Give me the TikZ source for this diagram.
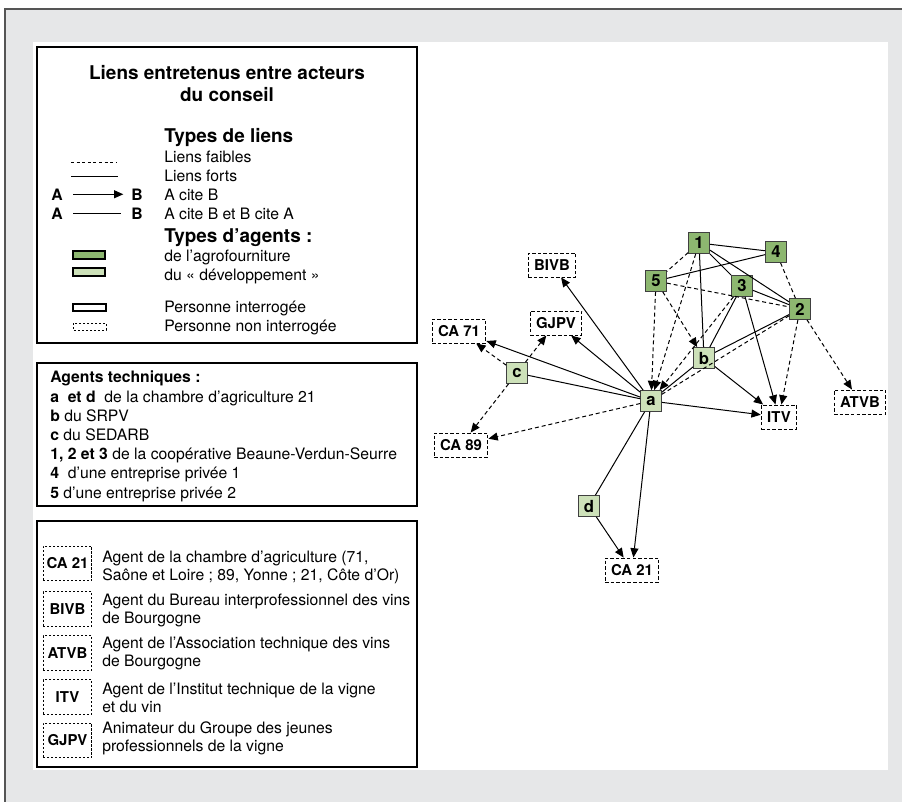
\documentclass[tikz,border=0pt]{standalone}
\usepackage{fontspec}
\setmainfont{TeX Gyre Heros}
\usetikzlibrary{arrows.meta}

\definecolor{agrogreen}{RGB}{141,183,112}
\definecolor{devgreen}{RGB}{205,225,185}
\definecolor{panelgray}{RGB}{230,231,232}
\definecolor{framegray}{RGB}{85,85,85}

\newcommand\legendhead{\fontsize{14.2}{16}\selectfont\bfseries}
\newcommand\legendtext{\fontsize{11.8}{14}\selectfont}
\newcommand\boxlabel{\fontsize{11.2}{12}\selectfont\bfseries}

\begin{document}
\begin{tikzpicture}[x=0.75pt,y=0.75pt,yscale=-1,xscale=1,
  agent/.style={draw=black!75,line width=0.8pt,minimum size=15.5pt,inner sep=0pt,font=\fontsize{12.5}{12.5}\selectfont\bfseries},
  agro/.style={agent,fill=agrogreen},
  devt/.style={agent,fill=devgreen},
  other/.style={draw,fill=white,line width=0.7pt,dash pattern={on 2.6pt off 1.6pt},minimum height=18pt,inner xsep=4.5pt,font=\boxlabel},
  keybox/.style={draw,line width=0.6pt,dash pattern={on 1.6pt off 1.4pt},minimum width=36.5pt,minimum height=26pt,inner sep=0pt,font=\boxlabel},
  strong/.style={line width=0.75pt},
  weak/.style={line width=0.75pt,dash pattern={on 3pt off 2.2pt}},
  cite/.style={-{Triangle[length=7pt,width=6pt]}},
  legendbox/.style={draw,line width=1pt}]
\useasboundingbox (0,0) rectangle (902,801);

%Shape: Rectangle [frame]
\draw [draw=framegray,fill=panelgray,line width=1pt] (5,9) rectangle (912,812) ;
%Shape: Rectangle [white panel]
\fill [white] (33,42) rectangle (888,770) ;

%Shape: Rectangle [legend of links]
\draw [legendbox] (37,47) rectangle (417,343) ;
%Shape: Rectangle [agents]
\draw [legendbox] (37,363) rectangle (417,506) ;
%Shape: Rectangle [structures]
\draw [legendbox] (37,521) rectangle (417,767) ;

% Text Node
\draw (227,79) node (title1) [anchor=base][inner sep=0.75pt] {\legendhead Liens entretenus entre acteurs};
% Text Node
\draw (227,101) node (title2) [anchor=base][inner sep=0.75pt] {\legendhead du conseil};
% Text Node
\draw (163,142) node (tliens) [anchor=base west][inner sep=0.75pt] {\legendhead Types de liens};
% Text Node
\draw (163,162) node (tfaibles) [anchor=base west][inner sep=0.75pt] {\legendtext Liens faibles};
% Text Node
\draw (163,181) node (tforts) [anchor=base west][inner sep=0.75pt] {\legendtext Liens forts};
% Text Node
\draw (163,200) node (tcite) [anchor=base west][inner sep=0.75pt] {\legendtext A cite B};
% Text Node
\draw (163,219) node (tmutual) [anchor=base west][inner sep=0.75pt] {\legendtext A cite B et B cite A};
% Text Node
\draw (163,242) node (tagents) [anchor=base west][inner sep=0.75pt] {\legendhead Types d’agents :};
% Text Node
\draw (163,261) node (tagro) [anchor=base west][inner sep=0.75pt] {\legendtext de l’agrofourniture};
% Text Node
\draw (163,280) node (tdev) [anchor=base west][inner sep=0.75pt] {\legendtext du « développement »};
% Text Node
\draw (163,312) node (tinter) [anchor=base west][inner sep=0.75pt] {\legendtext Personne interrogée};
% Text Node
\draw (163,331) node (tnoninter) [anchor=base west][inner sep=0.75pt] {\legendtext Personne non interrogée};

%Straight Lines [weak link key]
\coordinate (weakL) at (71,162) ;
\coordinate (weakR) at (116,162) ;
\draw [line width=0.6pt,dash pattern={on 2.2pt off 2pt}] (weakL) -- (weakR) ;
%Straight Lines [strong link key]
\coordinate (strongL) at (71,176) ;
\coordinate (strongR) at (118,176) ;
\draw [line width=0.75pt] (strongL) -- (strongR) ;
% Text Node
\draw (50,200) node (keyA1) [anchor=base west][inner sep=0.75pt] {\legendtext\bfseries A};
% Text Node
\draw (130,200) node (keyB1) [anchor=base west][inner sep=0.75pt] {\legendtext\bfseries B};
\draw [strong,cite,shorten <=7pt,shorten >=5pt] (keyA1) -- (keyB1) ;
% Text Node
\draw (50,219) node (keyA2) [anchor=base west][inner sep=0.75pt] {\legendtext\bfseries A};
% Text Node
\draw (130,219) node (keyB2) [anchor=base west][inner sep=0.75pt] {\legendtext\bfseries B};
\draw [strong,shorten <=7pt,shorten >=7pt] (keyA2) -- (keyB2) ;

%Shape: Rectangle [agro key]
\draw [fill=agrogreen,line width=0.8pt] (73,251) rectangle (105,259) ;
%Shape: Rectangle [dev key]
\draw [fill=devgreen,line width=0.8pt] (73,268) rectangle (105,276) ;
%Shape: Rectangle [asked key]
\draw [line width=0.8pt] (73,304) rectangle (106,311) ;
%Shape: Rectangle [not asked key]
\draw [line width=0.6pt,dash pattern={on 1.6pt off 1.4pt}] (73,323) rectangle (106,330) ;

% Text Node
\draw (49,382) node (tech) [anchor=base west][inner sep=0.75pt] {\legendtext\bfseries Agents techniques :};
% Text Node
\draw (49,402) node (techad) [anchor=base west][inner sep=0.75pt] {\legendtext\textbf{a \ et d} \ de la chambre d’agriculture 21};
% Text Node
\draw (49,421) node (techb) [anchor=base west][inner sep=0.75pt] {\legendtext\textbf{b} du SRPV};
% Text Node
\draw (49,440) node (techc) [anchor=base west][inner sep=0.75pt] {\legendtext\textbf{c} du SEDARB};
% Text Node
\draw (49,459) node (tech123) [anchor=base west][inner sep=0.75pt] {\legendtext\textbf{1, 2 et 3} de la coopérative Beaune-Verdun-Seurre};
% Text Node
\draw (49,478) node (tech4) [anchor=base west][inner sep=0.75pt] {\legendtext\textbf{4} \ d’une entreprise privée 1};
% Text Node
\draw (49,498) node (tech5) [anchor=base west][inner sep=0.75pt] {\legendtext\textbf{5} d’une entreprise privée 2};

% Key boxes
\node [keybox] (keyca) at (67.5,563.5) {CA 21};
\node [keybox] (keybivb) at (67.5,609) {BIVB};
\node [keybox] (keyatvb) at (67.5,653) {ATVB};
\node [keybox] (keyitv) at (67.5,697) {ITV};
\node [keybox] (keygjpv) at (67.5,740.5) {GJPV};
% Text Node
\draw (101,562) node (dca1) [anchor=base west][inner sep=0.75pt] {\legendtext Agent de la chambre d’agriculture (71,};
\draw (101,580) node (dca2) [anchor=base west][inner sep=0.75pt] {\legendtext Saône et Loire ; 89, Yonne ; 21, Côte d’Or)};
% Text Node
\draw (101,605) node (dbivb1) [anchor=base west][inner sep=0.75pt] {\legendtext Agent du Bureau interprofessionnel des vins};
\draw (101,623) node (dbivb2) [anchor=base west][inner sep=0.75pt] {\legendtext de Bourgogne};
% Text Node
\draw (101,648) node (datvb1) [anchor=base west][inner sep=0.75pt] {\legendtext Agent de l’Association technique des vins};
\draw (101,666) node (datvb2) [anchor=base west][inner sep=0.75pt] {\legendtext de Bourgogne};
% Text Node
\draw (101,694) node (ditv1) [anchor=base west][inner sep=0.75pt] {\legendtext Agent de l’Institut technique de la vigne};
\draw (101,712) node (ditv2) [anchor=base west][inner sep=0.75pt] {\legendtext et du vin};
% Text Node
\draw (101,733) node (dgjpv1) [anchor=base west][inner sep=0.75pt] {\legendtext Animateur du Groupe des jeunes};
\draw (101,751) node (dgjpv2) [anchor=base west][inner sep=0.75pt] {\legendtext professionnels de la vigne};

% Network: agents
\node [agro] (n1) at (699,243) {1};
\node [agro] (n4) at (776,252) {4};
\node [agro] (n5) at (656,281) {5};
\node [agro] (n3) at (742,286) {3};
\node [agro] (n2) at (800,309) {2};
\node [devt] (nb) at (704,358) {b};
\node [devt] (na) at (651,401) {a};
\node [devt] (nc) at (517,373) {c};
\node [devt] (nd) at (589,506) {d};
% Network: other structures
\node [other] (bivb) at (552,265) {BIVB};
\node [other] (gjpv) at (556,323) {GJPV};
\node [other] (ca71) at (459,331) {CA 71};
\node [other] (ca89) at (461,445) {CA 89};
\node [other] (itv) at (779,417) {ITV};
\node [other] (atvb) at (860,402) {ATVB};
\node [other] (ca21) at (632,570) {CA 21};

%Straight Lines [strong links]
\draw [strong] (n1) -- (n4) ;
\draw [strong] (n5) -- (n4) ;
\draw [strong] (n1) -- (n3) ;
\draw [strong] (n1) -- (n2) ;
\draw [strong] (n3) -- (n2) ;
\draw [strong] (n1) -- (nb) ;
\draw [strong] (n3) -- (nb) ;
\draw [strong] (nb) -- (n2) ;
\draw [strong] (na) -- (nb) ;
\draw [strong] (nc) -- (na) ;
\draw [strong] (na) -- (nd) ;
%Straight Lines [strong citations]
\draw [strong,cite] (na) -- (bivb) ;
\draw [strong,cite] (na) -- (gjpv) ;
\draw [strong,cite] (na) -- (ca71) ;
\draw [strong,cite] (na) -- (itv) ;
\draw [strong,cite] (na) -- (ca21) ;
\draw [strong,cite] (nd) -- (ca21) ;
\draw [strong,cite] (nb) -- (itv) ;
\draw [strong,cite] (n3) -- (itv) ;
%Straight Lines [weak links]
\draw [weak] (n1) -- (n5) ;
\draw [weak] (n5) -- (n2) ;
\draw [weak] (n4) -- (n2) ;
\draw [weak] (n2) -- (na) ;
%Straight Lines [weak citations]
\draw [weak,cite] (nc) -- (ca71) ;
\draw [weak,cite] (nc) -- (gjpv) ;
\draw [weak,cite] (nc) -- (ca89) ;
\draw [weak,cite] (na) -- (ca89) ;
\draw [weak,cite] (n5) -- (na) ;
\draw [weak,cite] (n1) -- (na) ;
\draw [weak,cite] (n3) -- (na) ;
\draw [weak,cite] (n5) -- (nb) ;
\draw [weak,cite] (n2) -- (itv) ;
\draw [weak,cite] (n2) -- (atvb) ;

\end{tikzpicture}
\end{document}
